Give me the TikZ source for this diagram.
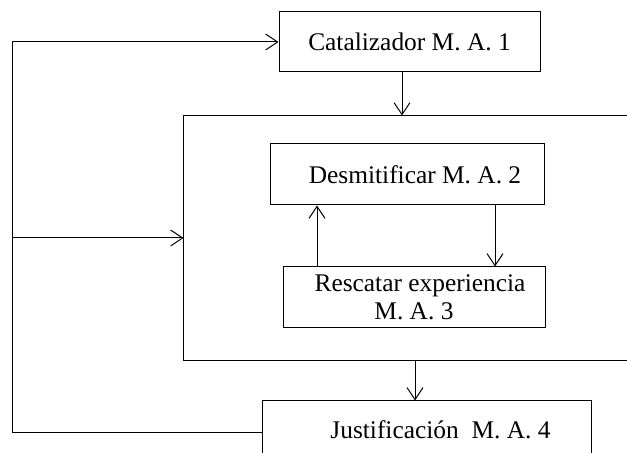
\documentclass[tikz,border=0pt]{standalone}
\usepackage{fontspec}
\setmainfont{Liberation Serif}
\usetikzlibrary{arrows.meta}

\begin{document}
\begin{tikzpicture}[x=0.5pt,y=-0.5pt,line width=0.5pt,
  font=\fontsize{12.7}{14}\selectfont]
\tikzstyle{box}=[draw, inner sep=0pt, align=center]
\tikzstyle{flow}=[-{Straight Barb[length=6pt,width=8pt]}]

\useasboundingbox (0,0) rectangle (627,453);
\clip (0,0) rectangle (627,453);

% boxes
\node[box, minimum width=130.5pt, minimum height=30pt] (cat) at (409.5,42) {Catalizador M. A. 1};
\node[minimum width=228pt, minimum height=122pt, inner sep=0pt] (frame) at (412,238) {};
\node[box, minimum width=137pt, minimum height=30.5pt] (desm) at (407,174.5) {\hspace*{8pt}Desmitificar M. A. 2};
\node[box, minimum width=131pt, minimum height=30.5pt] (resc) at (414,297.5) {\hspace*{6pt}Rescatar experiencia\\M. A. 3};
\node[box, minimum width=164.5pt, minimum height=32pt] (just) at (426.5,433) {\hspace*{14pt}Justificaci\'on\ \ M. A. 4\raisebox{0pt}[0pt][3pt]{}};

% open frame
\draw (frame.north east) -- (frame.north west) -- (frame.south west) -- (frame.south east);

% feedback loop
\coordinate (loopSW) at (12,433);
\coordinate (split) at (12,238);
\draw[flow] (just.west) -- (loopSW) |- (cat.west);
\draw[flow] (split) -- (frame.west);

% vertical arrows
\draw[flow] ([xshift=-3.75pt]cat.south) -- ([xshift=-3.75pt]cat.south |- frame.north);
\draw[flow] ([xshift=-48.5pt]resc.north) -- ([xshift=-48.5pt]resc.north |- desm.south);
\draw[flow] ([xshift=44pt]desm.south) -- ([xshift=44pt]desm.south |- resc.north);
\draw[flow] ([xshift=-5.75pt]just.north |- frame.south) -- ([xshift=-5.75pt]just.north);

\end{tikzpicture}
\end{document}
